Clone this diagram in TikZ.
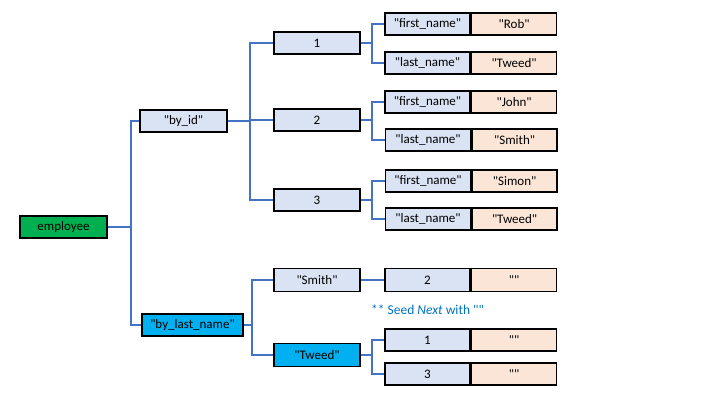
\documentclass[tikz,border=0pt]{standalone}
\usepackage{fontspec}
\setmainfont{Carlito}[Ligatures=TeXOff]
\usetikzlibrary{positioning}
\definecolor{lblue}{HTML}{DAE3F3}
\definecolor{peach}{HTML}{FBE5D6}
\definecolor{grn}{HTML}{00B050}
\definecolor{cyan}{HTML}{00B0F0}
\definecolor{lnk}{HTML}{4472C4}
\definecolor{note}{HTML}{0070C0}
\begin{document}
\begin{tikzpicture}[x=1pt,y=-1pt,
  box/.style={draw=black, line width=1.6pt, inner sep=0pt, minimum height=22pt,
    font=\fontsize{13}{15}\selectfont},
  mid/.style={box, minimum width=86pt, fill=lblue},
  keyb/.style={box, minimum width=85pt, fill=lblue},
  valb/.style={box, minimum width=85pt, fill=peach, anchor=west},
  link/.style={draw=lnk, line width=1.6pt}]
\useasboundingbox (0,0) rectangle (720,405);

\node[box, minimum width=87pt, fill=grn] (emp) at (63.5,227) {employee};
\node[mid, minimum width=87pt] (byid) at (183.5,121) {"by\_id"};
\node[box, minimum width=101pt, fill=cyan] (bylast) at (192.5,325) {"by\_last\_name"};

\node[mid] (n1) at (317,43) {1};
\node[mid] (n2) at (317,120) {2};
\node[mid] (n3) at (317,200) {3};
\node[mid, minimum height=23pt] (smith) at (317,280) {"Smith"};
\node[box, minimum width=86pt, minimum height=23pt, fill=cyan] (tweed) at (317,355) {"Tweed"};

\node[keyb] (k1a) at (427.5,24) {"first\_name"};
\node[valb] (v1a) at (k1a.east) {"Rob"};
\node[keyb] (k1b) at (427.5,63) {"last\_name"};
\node[valb] (v1b) at (k1b.east) {"Tweed"};
\node[keyb] (k2a) at (427.5,102) {"first\_name"};
\node[valb] (v2a) at (k2a.east) {"John"};
\node[keyb] (k2b) at (428,140) {"last\_name"};
\node[valb] (v2b) at (k2b.east) {"Smith"};
\node[keyb] (k3a) at (428,181) {"first\_name"};
\node[valb] (v3a) at (k3a.east) {"Simon"};
\node[keyb] (k3b) at (428,219) {"last\_name"};
\node[valb] (v3b) at (k3b.east) {"Tweed"};

\node[keyb, minimum height=23pt] (ks) at (427.5,280) {2};
\node[valb, minimum height=23pt] (vs) at (ks.east) {""};
\node[keyb] (kt1) at (427.5,340) {1};
\node[valb] (vt1) at (kt1.east) {""};
\node[keyb] (kt3) at (427.5,374) {3};
\node[valb] (vt3) at (kt3.east) {""};

\node[anchor=west, text=note, inner sep=0pt, font=\fontsize{13.5}{15}\selectfont] (seed) at (371,310) {** Seed \textit{Next} with ""};

\draw[link] (emp.east) -- ++(23,0) |- (byid.west);
\draw[link] (emp.east) -- ++(23,0) |- (bylast.west);
\draw[link] (byid.east) -- ++(22,0) |- (n1.west);
\draw[link] (byid.east) -- ++(22,0) |- (n2.west);
\draw[link] (byid.east) -- ++(22,0) |- (n3.west);
\draw[link] (bylast.east) -- ++(8,0) |- (smith.west);
\draw[link] (bylast.east) -- ++(8,0) |- (tweed.west);
\foreach \p/\a/\b in {n1/k1a/k1b, n2/k2a/k2b, n3/k3a/k3b, tweed/kt1/kt3}{
  \draw[link] (\p.east) -- ++(11,0) |- (\a.west);
  \draw[link] (\p.east) -- ++(11,0) |- (\b.west);
}
\draw[link] (smith.east) -- (ks.west);
\end{tikzpicture}
\end{document}
